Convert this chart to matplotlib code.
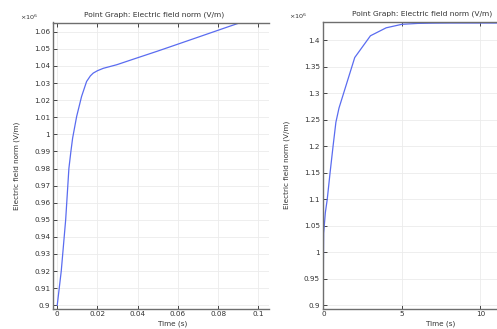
import matplotlib
matplotlib.use("Agg")
import matplotlib.pyplot as plt
from matplotlib.ticker import FuncFormatter

# Left plot: short time window (values in 1e6 V/m)
t_short = [0.0, 0.002, 0.0042, 0.0058, 0.0068, 0.00766, 0.00965, 0.0121, 0.0146, 0.0165,
           0.0179, 0.02, 0.0229, 0.0296, 0.0395, 0.0495, 0.0557, 0.07, 0.085, 0.0915]
e_short = [0.9, 0.92, 0.95, 0.98, 0.99, 0.9978, 1.0104, 1.0221, 1.0309, 1.0342,
           1.0358, 1.0372, 1.0386, 1.0407, 1.0446, 1.0485, 1.051, 1.0568, 1.0629, 1.0655]

# Right plot: long time window (values in 1e6 V/m)
t_long = [0.0, 0.005, 0.02, 0.06, 0.13, 0.25, 0.43, 0.62, 0.8, 1.0, 2.0, 3.0, 4.0,
          5.0, 6.0, 7.0, 8.0, 10.0, 12.0, 13.0]
e_long = [0.9, 0.98, 1.036, 1.05, 1.075, 1.1, 1.15, 1.2, 1.245, 1.272, 1.367, 1.408,
          1.423, 1.4296, 1.4313, 1.4318, 1.432, 1.432, 1.432, 1.432]

left_yticks = [0.9, 0.91, 0.92, 0.93, 0.94, 0.95, 0.96, 0.97, 0.98, 0.99, 1.0,
               1.01, 1.02, 1.03, 1.04, 1.05, 1.06]
left_xticks = [0, 0.02, 0.04, 0.06, 0.08, 0.1]
right_yticks = [0.9, 0.95, 1.0, 1.05, 1.1, 1.15, 1.2, 1.25, 1.3, 1.35, 1.4]
right_xticks = [0, 5, 10]

title = "Point Graph: Electric field norm (V/m)"
ylabel = "Electric field norm (V/m)"
xlabel = "Time (s)"

W, H = 497, 329
fig = plt.figure(figsize=(W / 100, H / 100), dpi=100)
fig.patch.set_facecolor("white")

line_color = "#5a6cf0"
spine_color = "#6e6e6e"
grid_color = "#ebebeb"
text_color = "#333333"

fmt = FuncFormatter(lambda v, p: ("%g" % round(v, 6)))


def px(l, b, r, t):
    return [l / W, 1 - b / H, (r - l) / W, (b - t) / H]


def style(ax):
    ax.grid(True, color=grid_color, linewidth=0.6)
    ax.set_axisbelow(True)
    for s in ["top", "bottom", "left"]:
        ax.spines[s].set_color(spine_color)
        ax.spines[s].set_linewidth(1.0)
    ax.spines["right"].set_visible(False)
    ax.tick_params(direction="in", length=3, width=0.7, color="#444444",
                   labelsize=5.2, labelcolor=text_color, pad=2,
                   top=True, right=False)
    ax.yaxis.set_major_formatter(fmt)
    ax.xaxis.set_major_formatter(fmt)


ax1 = fig.add_axes(px(53, 308.7, 269, 22.5))
ax1.plot(t_short, e_short, color=line_color, linewidth=0.9)
ax1.set_xlim(-0.0021, 0.1053)
ax1.set_ylim(0.898, 1.0654)
ax1.set_xticks(left_xticks)
ax1.set_yticks(left_yticks)
style(ax1)
ax1.set_title(title, fontsize=5.4, color=text_color, pad=4, x=(154 - 53) / 216)
ax1.set_ylabel(ylabel, fontsize=5.2, color=text_color, labelpad=10)
ax1.set_xlabel(xlabel, fontsize=5.2, color=text_color)
ax1.xaxis.set_label_coords((172.7 - 53) / 216, -0.04)
fig.text(20 / W, 1 - 22 / H, r"$\times 10^{6}$", fontsize=4.6, color=text_color,
         ha="left", va="bottom")

ax2 = fig.add_axes(px(322.7, 308.7, 522, 21.5))
ax2.plot(t_long, e_long, color=line_color, linewidth=0.9)
ax2.set_xlim(-0.04, 12.65)
ax2.set_ylim(0.8936, 1.4349)
ax2.set_xticks(right_xticks)
ax2.set_yticks(right_yticks)
style(ax2)
ax2.set_title(title, fontsize=5.4, color=text_color, pad=4)
ax2.set_ylabel(ylabel, fontsize=5.2, color=text_color, labelpad=10)
ax2.set_xlabel(xlabel, fontsize=5.2, color=text_color)
ax2.xaxis.set_label_coords((441 - 322.7) / 199.3, -0.04)
fig.text(289 / W, 1 - 21 / H, r"$\times 10^{6}$", fontsize=4.6, color=text_color,
         ha="left", va="bottom")

fig.savefig("out.png", dpi=100, facecolor="white")
